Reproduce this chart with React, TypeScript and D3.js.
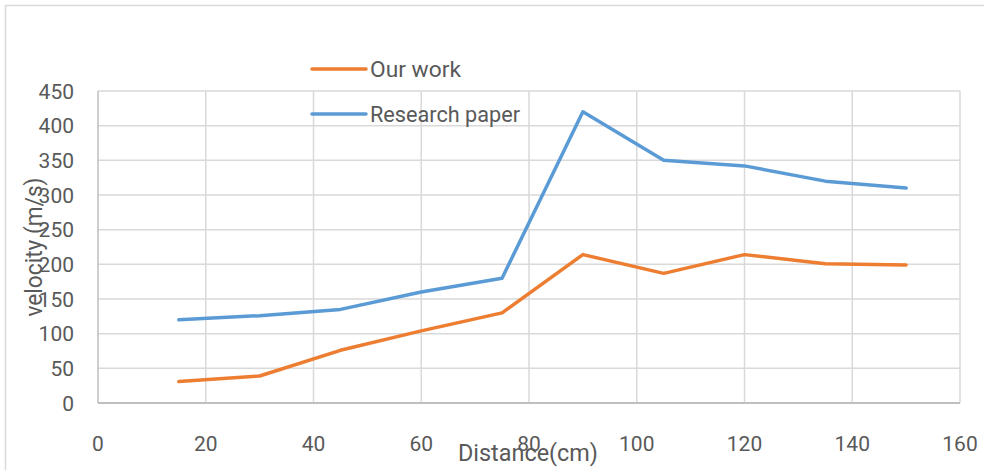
import React, { useEffect, useRef } from "react";
import * as d3 from "d3";

const distances = [15, 30, 45, 60, 75, 90, 105, 120, 135, 150];
const ourWork = [31, 39, 76, 104, 130, 214, 187, 214, 201, 199];
const researchPaper = [120, 126, 135, 160, 180, 420, 350, 342, 320, 310];
const xTicks = [0, 20, 40, 60, 80, 100, 120, 140, 160];
const yTicks = [0, 50, 100, 150, 200, 250, 300, 350, 400, 450];
const seriesNames = ["Our work", "Research paper"];
const seriesColors = ["#ED7D31", "#5B9BD5"];

const width = 984;
const height = 470;
const margin = { top: 91, right: 24, bottom: 67, left: 98 };
const textColor = "#595959";
const font = "Roboto, 'Noto Sans', sans-serif";

const App: React.FC = () => {
  const svgRef = useRef<SVGSVGElement>(null);

  useEffect(() => {
    if (!svgRef.current) return;
    d3.select(svgRef.current).selectAll("*").remove();

    const svg = d3.select(svgRef.current).attr("width", width).attr("height", height);

    // chart frame
    svg
      .append("rect")
      .attr("x", 5.5)
      .attr("y", 5.5)
      .attr("width", width + 20)
      .attr("height", height + 20)
      .attr("fill", "white")
      .attr("stroke", "#d9d9d9")
      .attr("stroke-width", 1.5);

    const x = d3.scaleLinear().domain([0, 160]).range([margin.left, width - margin.right]);
    const y = d3.scaleLinear().domain([0, 450]).range([height - margin.bottom, margin.top]);

    // gridlines
    svg
      .append("g")
      .selectAll("line")
      .data(yTicks.filter((d) => d > 0))
      .join("line")
      .attr("x1", x(0))
      .attr("x2", x(160))
      .attr("y1", (d) => y(d))
      .attr("y2", (d) => y(d))
      .attr("stroke", "#d9d9d9")
      .attr("stroke-width", 1.5);

    svg
      .append("g")
      .selectAll("line")
      .data(xTicks.filter((d) => d > 0))
      .join("line")
      .attr("x1", (d) => x(d))
      .attr("x2", (d) => x(d))
      .attr("y1", y(0))
      .attr("y2", y(450))
      .attr("stroke", "#d9d9d9")
      .attr("stroke-width", 1.5);

    // axis lines
    svg
      .append("line")
      .attr("x1", x(0))
      .attr("x2", x(0))
      .attr("y1", y(0))
      .attr("y2", y(450))
      .attr("stroke", "#bfbfbf")
      .attr("stroke-width", 1.5);
    svg
      .append("line")
      .attr("x1", x(0))
      .attr("x2", x(160))
      .attr("y1", y(0))
      .attr("y2", y(0))
      .attr("stroke", "#bfbfbf")
      .attr("stroke-width", 2);

    // tick labels
    svg
      .append("g")
      .selectAll("text")
      .data(yTicks)
      .join("text")
      .attr("x", 74)
      .attr("y", (d) => y(d) + 7.5)
      .attr("text-anchor", "end")
      .attr("fill", textColor)
      .style("font-family", font)
      .style("font-size", "21px")
      .text((d) => d);

    svg
      .append("g")
      .selectAll("text")
      .data(xTicks)
      .join("text")
      .attr("x", (d) => x(d))
      .attr("y", 451)
      .attr("text-anchor", "middle")
      .attr("fill", textColor)
      .style("font-family", font)
      .style("font-size", "21px")
      .text((d) => d);

    // axis titles
    svg
      .append("text")
      .attr("x", 528)
      .attr("y", 461)
      .attr("text-anchor", "middle")
      .attr("fill", textColor)
      .style("font-family", font)
      .style("font-size", "24px")
      .attr("textLength", 140)
      .attr("lengthAdjust", "spacingAndGlyphs")
      .text("Distance(cm)");

    svg
      .append("text")
      .attr("transform", `translate(42,247) rotate(-90)`)
      .attr("text-anchor", "middle")
      .attr("fill", textColor)
      .style("font-family", font)
      .style("font-size", "24px")
      .attr("textLength", 139)
      .attr("lengthAdjust", "spacingAndGlyphs")
      .text("velocity (m/s)");

    // lines
    const series = [ourWork, researchPaper];
    const line = d3
      .line<number>()
      .x((_, i) => x(distances[i]))
      .y((d) => y(d));

    series.forEach((values, i) => {
      svg
        .append("path")
        .datum(values)
        .attr("d", line)
        .attr("fill", "none")
        .attr("stroke", seriesColors[i])
        .attr("stroke-width", 3.5)
        .attr("stroke-linejoin", "round")
        .attr("stroke-linecap", "round");
    });

    // legend
    const legendY = [69, 114];
    const legend = svg
      .append("g")
      .selectAll("g")
      .data(seriesNames)
      .join("g")
      .attr("transform", (_, i) => `translate(312,${legendY[i]})`);

    legend
      .append("line")
      .attr("x1", 0)
      .attr("x2", 54)
      .attr("stroke", (_, i) => seriesColors[i])
      .attr("stroke-width", 3.5)
      .attr("stroke-linecap", "round");

    legend
      .append("text")
      .attr("x", 58)
      .attr("y", 8)
      .attr("fill", textColor)
      .style("font-family", font)
      .style("font-size", "22px")
      .attr("textLength", (_, i) => (i === 0 ? 91 : 150))
      .attr("lengthAdjust", "spacingAndGlyphs")
      .text((d) => d);
  }, []);

  return <svg ref={svgRef} style={{ position: "absolute", left: 0, top: 0 }}></svg>;
};

export default App;
